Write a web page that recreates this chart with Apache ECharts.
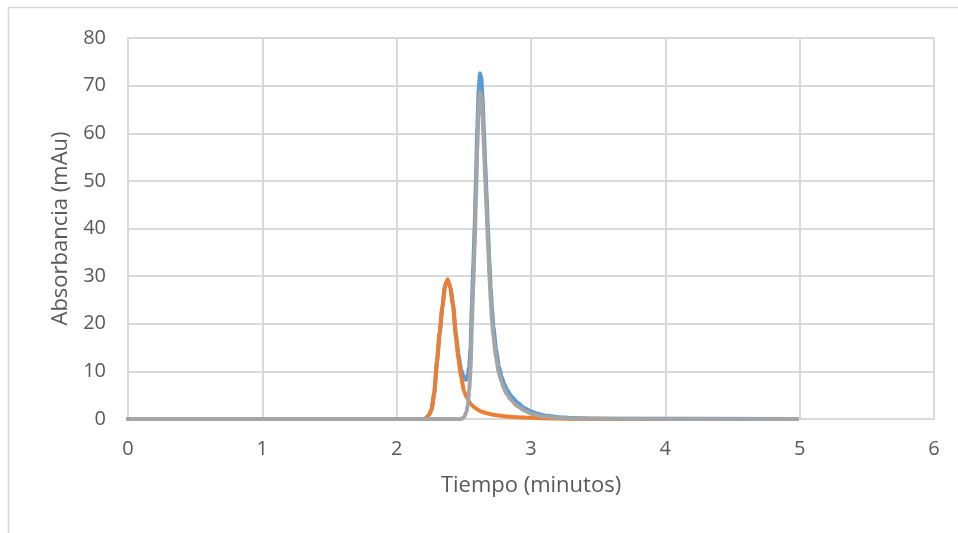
<!DOCTYPE html>
<html>
<head>
<meta charset="utf-8">
<script src="https://cdn.jsdelivr.net/npm/echarts@6/dist/echarts.min.js"></script>
<style>
  html, body { margin: 0; padding: 0; background: #fff; }
  #chart { width: 958px; height: 533px; }
</style>
</head>
<body>
<div id="chart"></div>
<script>
// Tick labels / axis ranges
const xTicks = [0, 1, 2, 3, 4, 5, 6];
const yTicks = [0, 10, 20, 30, 40, 50, 60, 70, 80];

// Mezcla (blue): both compounds together
const tiempoMezcla = [0, 2.20, 2.22, 2.24, 2.26, 2.28, 2.30, 2.32, 2.34, 2.36, 2.38, 2.40, 2.42, 2.44, 2.46, 2.48, 2.50, 2.515, 2.53, 2.54, 2.55, 2.56, 2.57, 2.58, 2.59, 2.60, 2.61, 2.62, 2.63, 2.64, 2.65, 2.66, 2.67, 2.68, 2.69, 2.70, 2.71, 2.72, 2.74, 2.76, 2.78, 2.80, 2.82, 2.85, 2.90, 2.95, 3.00, 3.05, 3.10, 3.20, 3.30, 3.50, 4.98];
const absMezcla = [0, 0, 0.2, 0.8, 2.0, 5.5, 12, 18, 23.5, 28, 29.3, 27.6, 24, 18, 13.5, 10.4, 8.6, 8.2, 9.4, 11, 15, 24, 32, 40, 50, 61, 69, 72.6, 71.8, 67, 60, 53, 46.5, 39.5, 33, 27.5, 23, 19.5, 14.5, 11.2, 9.0, 7.4, 6.2, 4.9, 3.4, 2.3, 1.6, 1.1, 0.75, 0.38, 0.2, 0.06, 0];

// First compound (orange)
const tiempoPico1 = [0, 2.20, 2.22, 2.24, 2.26, 2.28, 2.30, 2.32, 2.34, 2.36, 2.38, 2.40, 2.42, 2.44, 2.46, 2.48, 2.50, 2.52, 2.54, 2.56, 2.58, 2.60, 2.63, 2.67, 2.72, 2.80, 2.90, 3.00, 3.10, 3.20, 3.35, 3.60, 4.98];
const absPico1 = [0, 0, 0.2, 0.8, 2.0, 5.5, 12, 18, 23.5, 28, 29.3, 27.5, 23.8, 17.5, 12.5, 8.8, 6.0, 4.6, 3.6, 2.9, 2.4, 2.0, 1.6, 1.2, 0.9, 0.6, 0.38, 0.25, 0.15, 0.1, 0.05, 0.02, 0];

// Second compound (gray)
const tiempoPico2 = [0, 2.48, 2.50, 2.52, 2.53, 2.54, 2.55, 2.56, 2.57, 2.58, 2.59, 2.60, 2.61, 2.62, 2.63, 2.64, 2.65, 2.66, 2.67, 2.68, 2.69, 2.70, 2.71, 2.72, 2.74, 2.76, 2.78, 2.80, 2.82, 2.85, 2.90, 2.95, 3.00, 3.05, 3.10, 3.20, 3.30, 3.50, 4.98];
const absPico2 = [0, 0, 0.3, 1.5, 3, 6, 10.5, 20, 28, 36, 46, 57, 65, 68.7, 67.5, 63.5, 57, 50, 43.5, 37, 30.5, 25, 20.5, 17.5, 12.8, 9.8, 7.8, 6.3, 5.2, 4.0, 2.7, 1.8, 1.15, 0.75, 0.5, 0.25, 0.12, 0.04, 0];

const pairs = (t, v) => t.map((x, i) => [x, v[i]]);

const FONT = '"Open Sans", sans-serif';
const TXT = '#595959';
const GRID = '#d9d9d9';

const lineSeries = (name, t, v, color) => ({
  name,
  type: 'line',
  data: pairs(t, v),
  showSymbol: false,
  smooth: 0.15,
  smoothMonotone: 'x',
  lineStyle: { color, width: 4, cap: 'round', join: 'round' },
  itemStyle: { color },
  animation: false
});

const chart = echarts.init(document.getElementById('chart'), null, { renderer: 'canvas' });
chart.setOption({
  backgroundColor: '#ffffff',
  animation: false,
  graphic: [{
    type: 'rect',
    shape: { x: 8.5, y: 7.5, width: 980, height: 560 },
    style: { fill: 'none', stroke: GRID, lineWidth: 1.5 },
    silent: true
  }],
  grid: { left: 128, right: 24, top: 38, bottom: 114, containLabel: false },
  xAxis: {
    type: 'value',
    min: xTicks[0],
    max: xTicks[xTicks.length - 1],
    interval: 1,
    name: 'Tiempo (minutos)',
    nameLocation: 'middle',
    nameGap: 56,
    nameTextStyle: { color: TXT, fontFamily: FONT, fontSize: 22 },
    axisLine: { show: true, lineStyle: { color: GRID, width: 2 } },
    axisTick: { show: false },
    axisLabel: { color: TXT, fontFamily: FONT, fontSize: 20, margin: 20 },
    splitLine: { show: true, lineStyle: { color: GRID, width: 2 } }
  },
  yAxis: {
    type: 'value',
    min: yTicks[0],
    max: yTicks[yTicks.length - 1],
    interval: 10,
    name: 'Absorbancia (mAu)',
    nameLocation: 'middle',
    nameGap: 56,
    nameTextStyle: { color: TXT, fontFamily: FONT, fontSize: 22 },
    axisLine: { show: true, lineStyle: { color: GRID, width: 2 } },
    axisTick: { show: false },
    axisLabel: { color: TXT, fontFamily: FONT, fontSize: 20, margin: 22 },
    splitLine: { show: true, lineStyle: { color: GRID, width: 2 } }
  },
  series: [
    lineSeries('Mezcla', tiempoMezcla, absMezcla, '#5b9bd5'),
    lineSeries('Compuesto 1', tiempoPico1, absPico1, '#ed7d31'),
    lineSeries('Compuesto 2', tiempoPico2, absPico2, '#a5a5a5')
  ]
});
</script>
</body>
</html>
